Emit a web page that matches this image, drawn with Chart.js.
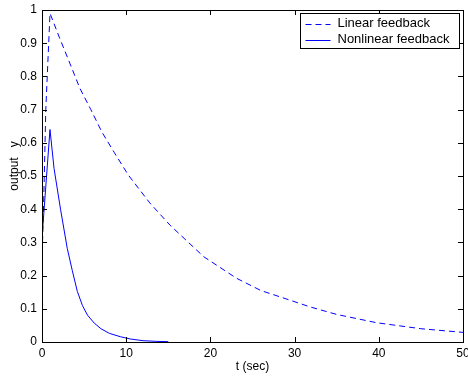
<!DOCTYPE html>
<html>
<head>
<meta charset="utf-8">
<script src="https://cdn.jsdelivr.net/npm/chart.js@4/dist/chart.umd.min.js"></script>
<style>
  html, body { margin: 0; padding: 0; background: #fff; }
  #chart { display: block; }
</style>
</head>
<body>
<canvas id="chart" width="468" height="379"></canvas>
<script>
// values
const linearT = [0, 0.05, 0.2, 0.45, 0.95, 2.1, 3.3, 4.5, 5.8, 7.1, 8.6, 10.25, 12.8, 15.2, 19.2, 23.1, 26, 29.1, 31.8, 35, 39.75, 45, 50];
const linearY = [0, 0.29, 0.42, 0.70, 0.99, 0.915, 0.84, 0.764, 0.70, 0.633, 0.57, 0.503, 0.419, 0.352, 0.257, 0.192, 0.155, 0.129, 0.106, 0.083, 0.058, 0.040, 0.029];

const nonlinT = [0, 0.02, 0.95, 1.43, 2.2, 3.0, 3.6, 4.2, 4.8, 5.4, 6.2, 7.0, 8.0, 9.3, 10.5, 12, 13.5, 15];
const nonlinY = [0, 0.32, 0.64, 0.523, 0.40, 0.282, 0.215, 0.152, 0.11, 0.081, 0.057, 0.040, 0.026, 0.016, 0.009, 0.004, 0.002, 0.001];

const seriesNames = ['Linear feedback', 'Nonlinear feedback'];
const xTitle = 't (sec)';
const yTitle = '      output   y';

const FONT = "'Liberation Sans', Arial, Helvetica, sans-serif";
const BLUE = '#0000ff';

const toPoints = (xs, ys) => xs.map((x, i) => ({ x: x, y: ys[i] }));

// matlab style box, inward ticks on all four sides and the legend box
const matlabFrame = {
    id: 'matlabFrame',
    afterDraw(chart) {
        const ctx = chart.ctx;
        const a = chart.chartArea;
        const xs = chart.scales.x;
        const ys = chart.scales.y;
        const tl = 5;
        ctx.save();
        ctx.strokeStyle = '#000';
        ctx.lineWidth = 1;
        ctx.beginPath();
        xs.ticks.forEach(t => {
            const px = Math.round(xs.getPixelForValue(t.value)) + 0.5;
            ctx.moveTo(px, a.bottom); ctx.lineTo(px, a.bottom - tl);
            ctx.moveTo(px, a.top); ctx.lineTo(px, a.top + tl);
        });
        ys.ticks.forEach(t => {
            const py = Math.round(ys.getPixelForValue(t.value)) + 0.5;
            ctx.moveTo(a.left, py); ctx.lineTo(a.left + tl, py);
            ctx.moveTo(a.right, py); ctx.lineTo(a.right - tl, py);
        });
        ctx.stroke();
        ctx.strokeRect(Math.round(a.left) + 0.5, Math.round(a.top) + 0.5,
            Math.round(a.right - a.left), Math.round(a.bottom - a.top));

        // legend
        const bx = 300.5, by = 13.5, bw = 159, bh = 35;
        ctx.fillStyle = '#fff';
        ctx.fillRect(bx, by, bw, bh);
        ctx.strokeRect(bx, by, bw, bh);
        ctx.font = '13px ' + FONT;
        ctx.textBaseline = 'middle';
        chart.data.datasets.forEach((ds, i) => {
            const cy = by + 10 + i * 16;
            ctx.strokeStyle = ds.borderColor;
            ctx.setLineDash(ds.borderDash || []);
            ctx.beginPath();
            ctx.moveTo(bx + 5, Math.round(cy) + 0.5);
            ctx.lineTo(bx + 30, Math.round(cy) + 0.5);
            ctx.stroke();
            ctx.setLineDash([]);
            ctx.fillStyle = '#000';
            ctx.fillText(ds.label, bx + 37, cy);
        });
        ctx.restore();
    }
};

new Chart(document.getElementById('chart'), {
    type: 'line',
    data: {
        datasets: [
            {
                label: seriesNames[0],
                data: toPoints(linearT, linearY),
                borderColor: BLUE,
                borderWidth: 1,
                borderDash: [6, 4],
                pointRadius: 0,
                tension: 0,
                fill: false
            },
            {
                label: seriesNames[1],
                data: toPoints(nonlinT, nonlinY),
                borderColor: BLUE,
                borderWidth: 1,
                pointRadius: 0,
                tension: 0,
                fill: false
            }
        ]
    },
    options: {
        responsive: false,
        animation: false,
        events: [],
        layout: { padding: { left: 0, right: 5, top: 10, bottom: 0 } },
        plugins: {
            legend: { display: false },
            tooltip: { enabled: false }
        },
        scales: {
            x: {
                type: 'linear',
                min: 0,
                max: 50,
                grid: { display: false, drawTicks: false },
                border: { display: false },
                ticks: { stepSize: 10, padding: 4, color: '#000', font: { family: FONT, size: 12 }, maxRotation: 0 },
                title: { display: true, text: xTitle, color: '#000', font: { family: FONT, size: 12 }, padding: { top: 0, bottom: 5 } },
                afterFit: s => { s.height = 37; s.paddingLeft = 0; s.paddingRight = 0; }
            },
            y: {
                type: 'linear',
                min: 0,
                max: 1,
                grid: { display: false, drawTicks: false },
                border: { display: false },
                ticks: {
                    stepSize: 0.1, padding: 5, color: '#000', font: { family: FONT, size: 12 },
                    callback: v => String(Math.round(v * 10) / 10)
                },
                title: { display: true, text: yTitle, color: '#000', font: { family: FONT, size: 12 }, padding: { top: 7, bottom: 0 } },
                afterFit: s => { s.width = 42; s.paddingTop = 0; s.paddingBottom = 0; }
            }
        }
    },
    plugins: [matlabFrame]
});
</script>
</body>
</html>
